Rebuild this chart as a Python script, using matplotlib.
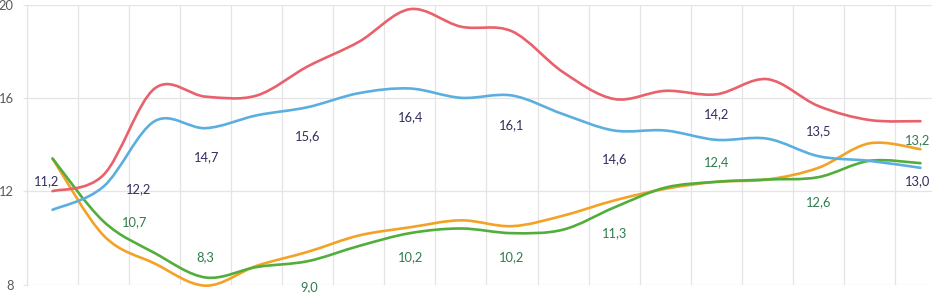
import matplotlib
matplotlib.use("Agg")
import matplotlib.pyplot as plt
from matplotlib.path import Path
from matplotlib.patches import PathPatch
import numpy as np

# ---- data ----
categories = list(range(18))
red_values = [12.0, 12.7, 16.4, 16.05, 16.1, 17.35, 18.4, 19.8, 19.05, 18.85,
              17.1, 15.95, 16.3, 16.15, 16.8, 15.65, 15.05, 15.0]
blue_values = [11.2, 12.2, 15.0, 14.7, 15.25, 15.6, 16.2, 16.4, 16.0, 16.1,
               15.3, 14.6, 14.6, 14.2, 14.25, 13.5, 13.3, 13.0]
green_values = [13.4, 10.7, 9.35, 8.3, 8.75, 9.0, 9.65, 10.2, 10.4, 10.2,
                10.35, 11.3, 12.15, 12.4, 12.5, 12.6, 13.3, 13.2]
orange_values = [13.4, 10.1, 8.9, 7.95, 8.8, 9.4, 10.1, 10.45, 10.75, 10.5,
                 10.95, 11.6, 12.1, 12.4, 12.5, 13.0, 14.05, 13.8]
y_ticks = [8, 12, 16, 20]

# label index -> offset in pixels (dx, dy downward)
blue_label_offsets = {0: (-5.5, -29), 1: (35.5, 2.5), 3: (1, 29), 5: (0, 29),
                      7: (0.5, 29), 9: (0, 29.5), 11: (0, 28.5), 13: (0, -25.5),
                      15: (0, -25), 17: (-2.5, 13)}
green_label_offsets = {1: (31.5, 1), 3: (0, -20.5), 5: (1.5, 25.5), 7: (0.5, 23.5),
                       9: (0, 24), 11: (0, 25.5), 13: (0, -20), 15: (0, 25),
                       17: (-3, -23)}

RED = "#E8616B"
BLUE = "#5BAFDF"
ORANGE = "#F4A226"
GREEN = "#52AE3B"
NAVY_LABEL = "#302E5E"
GREEN_LABEL = "#2F7C4D"
GRID = "#E4E4E4"

plt.rcParams['font.family'] = ['Lato', 'DejaVu Sans']

W, H = 932, 293
fig = plt.figure(figsize=(W / 100, H / 100), dpi=100)
left_px, axis_w_px = 27, 919
top_px, bottom_px = 4.5, 284.5
ax = fig.add_axes([left_px / W, (H - bottom_px) / H, axis_w_px / W,
                   (bottom_px - top_px) / H])
ax.set_xlim(-0.5, 17.5)
ax.set_ylim(8, 20)


def smooth_path(xs, ys):
    pts = np.column_stack([xs, ys]).astype(float)
    n = len(pts)
    verts = [pts[0]]
    codes = [Path.MOVETO]
    for i in range(n - 1):
        p0 = pts[i - 1] if i > 0 else pts[i]
        p1 = pts[i]
        p2 = pts[i + 1]
        p3 = pts[i + 2] if i + 2 < n else pts[i + 1]
        c1 = p1 + (p2 - p0) / 6.0
        c2 = p2 - (p3 - p1) / 6.0
        verts += [c1, c2, p2]
        codes += [Path.CURVE4] * 3
    return Path(verts, codes)


for vals, col, z in [(orange_values, ORANGE, 3), (green_values, GREEN, 4),
                     (red_values, RED, 5), (blue_values, BLUE, 6)]:
    patch = PathPatch(smooth_path(categories, vals), facecolor="none",
                      edgecolor=col, lw=1.9, zorder=z, capstyle="round",
                      joinstyle="round", clip_on=False)
    ax.add_patch(patch)


def fmt(v):
    return f"{v:.1f}".replace(".", ",")


for offsets, vals, col in [(blue_label_offsets, blue_values, NAVY_LABEL),
                           (green_label_offsets, green_values, GREEN_LABEL)]:
    for i, (dx, dy) in offsets.items():
        ax.annotate(fmt(vals[i]), xy=(categories[i], vals[i]),
                    xytext=(dx * 0.72, -dy * 0.72), textcoords="offset points",
                    ha="center", va="center", fontsize=9.3, color=col,
                    zorder=10, annotation_clip=False)

# axes styling
ax.set_yticks(y_ticks)
ax.set_yticklabels([str(t) for t in y_ticks])
ax.set_xticks([])
ax.set_xticks(np.arange(-0.5, 18.0, 1.0), minor=True)
ax.tick_params(axis="x", which="minor", length=0)
ax.tick_params(axis="y", length=3, color=GRID, pad=6.5, labelsize=9.3,
               labelcolor="#595959")
ax.grid(axis="y", color=GRID, lw=0.9)
ax.grid(axis="x", which="minor", color=GRID, lw=0.9)
for s in ["top", "right", "bottom"]:
    ax.spines[s].set_visible(False)
ax.spines["left"].set_color(GRID)
ax.spines["left"].set_linewidth(0.9)
ax.set_axisbelow(True)

fig.savefig("out.png", dpi=100)
